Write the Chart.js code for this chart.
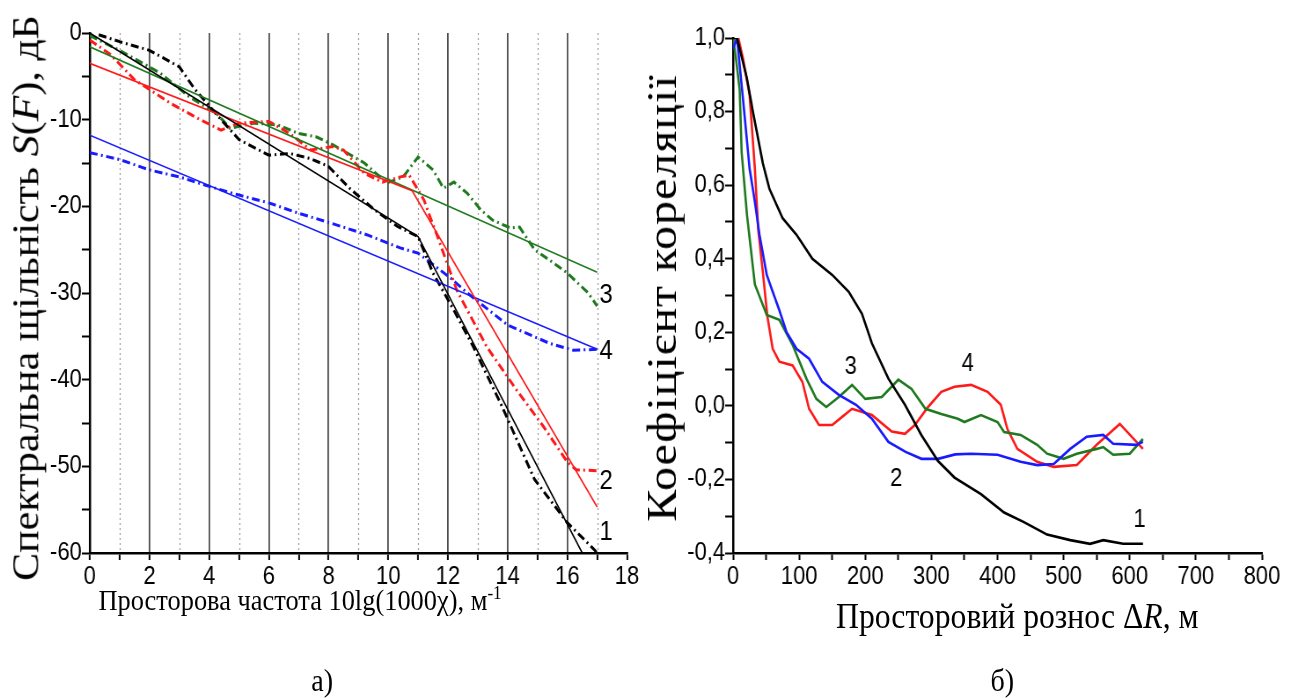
<!DOCTYPE html>
<html>
<head>
<meta charset="utf-8">
<script src="https://cdn.jsdelivr.net/npm/chart.js@4"></script>
<style>
  html, body { margin: 0; padding: 0; background: #fff; overflow: hidden; }
  body { width: 1295px; height: 698px; position: relative; }
  /* the reference is squeezed horizontally, so the whole page is drawn wider and scaled */
  #page { position: absolute; left: 0; top: 0; width: 1472px; height: 698px; transform: scaleX(0.88); transform-origin: 0 0; }
  canvas { position: absolute; top: 0; }
  .t { position: absolute; font-family: 'Liberation Serif', 'Times New Roman', serif; color: #000; white-space: nowrap; line-height: 1; }
  .rot { transform: translate(-50%, -50%) rotate(-90deg); }
  .hor { transform: translate(-50%, -50%); }
  sup { font-size: 0.65em; vertical-align: 0.55em; line-height: 0; }
</style>
</head>
<body>
<div id="page">
  <canvas id="chartA" width="740" height="600" style="left:0"></canvas>
  <canvas id="chartB" width="732" height="600" style="left:740px"></canvas>

  <div class="t rot" style="left:29px; top:298px; font-size:42px">Спектральна щільність <i>S</i>(<i>F</i>), дБ</div>
  <div class="t hor" style="left:341px; top:600px; font-size:30px">Просторова частота 10lg(1000χ), м<sup>-1</sup></div>
  <div class="t rot" style="left:752px; top:298px; font-size:48px; letter-spacing:1px">Коефіцієнт кореляції</div>
  <div class="t hor" style="left:1156px; top:616px; font-size:36px">Просторовий рознос Δ<i>R</i>, м</div>
  <div class="t hor" style="left:366px; top:680px; font-size:32px">а)</div>
  <div class="t hor" style="left:1139px; top:680px; font-size:32px">б)</div>
</div>
<script>
// ---- chart a): spectral density, dB vs 10lg(1000χ) ----
// straight fits (solid)
const fit1X = [0, 11, 16.5];
const fit1Y = [0, -23.5, -60];
const fit2X = [0, 10.8, 17];
const fit2Y = [-3.5, -18.2, -54.7];
const fit3X = [0, 17];
const fit3Y = [-1.6, -27.6];
const fit4X = [0, 17];
const fit4Y = [-11.8, -36.5];

// measured spectra (dash-dot)
const spec1X = [0.3, 1, 2, 3, 3.5, 4.4, 5, 6, 6.7, 7.4, 8, 8.7, 9.5, 10.3, 11, 11.5, 12.2, 12.85, 13.8, 14.9, 16, 16.9, 17];
const spec1Y = [-0.2, -1, -2, -3.9, -6.4, -10, -12.3, -14.1, -13.9, -14.5, -15.4, -17.9, -20.3, -22.3, -23.5, -27.7, -32, -36.2, -43, -51.5, -56.5, -59.6, -60];
const spec2X = [0, 0.7, 1.5, 2.7, 3.7, 4.4, 5, 6, 6.7, 7.4, 8.15, 8.5, 9.2, 9.8, 10.4, 10.7, 11, 11.2, 11.4, 11.6, 12.3, 13.3, 14.3, 15.2, 16, 16.3, 17];
const spec2Y = [-0.8, -2.5, -5.4, -8.1, -10, -11.2, -10.4, -10.2, -11.6, -13.5, -13.1, -13.5, -16.2, -17.2, -16.6, -16.4, -18.1, -19.3, -21.2, -23, -29.7, -36.2, -41.2, -45.4, -49.5, -50.4, -50.5];
const spec3X = [0, 1, 2.35, 3.35, 4.25, 4.7, 5.5, 6.3, 7, 7.6, 8.15, 9.2, 9.95, 10.5, 11, 11.5, 11.85, 12.2, 12.65, 13.1, 13.5, 14.1, 14.4, 14.9, 15.4, 16, 16.7, 17];
const spec3Y = [-0.3, -2, -4.6, -7.4, -9.3, -11, -10.4, -10.6, -11.6, -12, -12.9, -15, -17.3, -16.6, -14.3, -15.8, -17.9, -17.2, -18.5, -20.4, -21.6, -22.5, -22.4, -25, -26.2, -27.7, -30, -31.5];
const spec4X = [0, 1, 2, 3, 4, 5, 6, 7, 8.05, 9.3, 10.4, 11, 12.1, 12.65, 14, 15.4, 16.2, 17];
const spec4Y = [-13.8, -14.6, -15.8, -16.6, -17.7, -18.7, -19.6, -20.8, -21.9, -23.3, -24.8, -25.4, -28.3, -30, -33.7, -35.8, -36.6, -36.5];

// ---- chart б): correlation coefficient vs spacing, m ----
const corr1X = [0, 6, 21, 30, 45, 55, 75, 96, 120, 150, 175, 195, 210, 235, 260, 285, 310, 335, 375, 410, 440, 475, 510, 540, 560, 590, 620];
const corr1Y = [1.0, 1.0, 0.89, 0.8, 0.66, 0.59, 0.51, 0.465, 0.40, 0.356, 0.31, 0.25, 0.17, 0.074, 0.003, -0.08, -0.15, -0.195, -0.24, -0.29, -0.316, -0.35, -0.365, -0.375, -0.365, -0.375, -0.375];
const corr2X = [0, 6, 15, 25, 33, 40, 51, 60, 70, 81, 96, 115, 135, 160, 186, 210, 235, 261, 285, 310, 336, 360, 400, 435, 460, 485, 510, 535, 560, 575, 610, 620];
const corr2Y = [0.97, 1.0, 0.835, 0.645, 0.555, 0.465, 0.356, 0.31, 0.26, 0.2, 0.155, 0.128, 0.065, 0.03, 0.003, -0.035, -0.098, -0.125, -0.144, -0.144, -0.132, -0.13, -0.133, -0.152, -0.161, -0.158, -0.117, -0.084, -0.079, -0.103, -0.106, -0.098];
const corr3X = [0, 4, 10, 13, 21, 33, 51, 70, 90, 111, 126, 141, 160, 180, 200, 225, 250, 270, 291, 315, 340, 350, 375, 400, 410, 435, 460, 475, 500, 520, 550, 560, 575, 600, 620];
const corr3Y = [1.0, 0.95, 0.86, 0.69, 0.52, 0.33, 0.247, 0.234, 0.166, 0.074, 0.019, -0.003, 0.024, 0.057, 0.019, 0.024, 0.071, 0.046, -0.008, -0.022, -0.035, -0.044, -0.025, -0.044, -0.071, -0.079, -0.106, -0.13, -0.144, -0.13, -0.117, -0.112, -0.133, -0.13, -0.09];
const corr4X = [0, 8, 15, 25, 33, 38, 45, 52, 60, 70, 90, 105, 115, 130, 150, 165, 180, 210, 240, 260, 275, 295, 315, 335, 360, 385, 405, 415, 430, 460, 485, 520, 550, 585, 620];
const corr4Y = [1.0, 1.0, 0.945, 0.845, 0.645, 0.48, 0.365, 0.242, 0.155, 0.12, 0.11, 0.065, -0.008, -0.052, -0.052, -0.03, -0.008, -0.025, -0.07, -0.076, -0.052, -0.003, 0.038, 0.052, 0.057, 0.038, 0.003, -0.063, -0.117, -0.152, -0.166, -0.161, -0.106, -0.049, -0.117];

const labelsA = ['1', '2', '3', '4'];
const labelsB = ['1', '2', '3', '4'];

const tickFont = { family: "'Liberation Sans', Arial, sans-serif", size: 25 };
const BLACK = '#000000', RED = '#ff1a1a', GREEN = '#1f7a1f', BLUE = '#1a1aff';

function pts(xs, ys) {
    return xs.map((x, i) => ({ x: x, y: ys[i] }));
}

function line(xs, ys, color, width, dash) {
    return {
        data: pts(xs, ys),
        borderColor: color,
        borderWidth: width,
        borderDash: dash || [],
        pointRadius: 0,
        showLine: true,
        tension: 0,
        fill: false
    };
}

// small text markers next to curves, placed in data units
const seriesLabels = {
    id: 'seriesLabels',
    afterDatasetsDraw(chart, args, opts) {
        const ctx = chart.ctx;
        const x = chart.scales.x, y = chart.scales.y;
        ctx.save();
        ctx.font = opts.font;
        ctx.fillStyle = '#000';
        ctx.textAlign = 'center';
        ctx.textBaseline = 'middle';
        opts.items.forEach(it => {
            ctx.fillText(it.text, x.getPixelForValue(it.x), y.getPixelForValue(it.y));
        });
        ctx.restore();
    }
};

// dotted lines at odd x values of chart a)
const dottedGrid = {
    id: 'dottedGrid',
    beforeDatasetsDraw(chart) {
        if (chart.canvas.id !== 'chartA') return;
        const ctx = chart.ctx, area = chart.chartArea, x = chart.scales.x;
        ctx.save();
        ctx.setLineDash([2, 3]);
        ctx.strokeStyle = '#9a9a9a';
        ctx.lineWidth = 1.2;
        for (let v = 1; v < 18; v += 2) {
            const px = Math.round(x.getPixelForValue(v)) + 0.5;
            ctx.beginPath();
            ctx.moveTo(px, area.top);
            ctx.lineTo(px, area.bottom);
            ctx.stroke();
        }
        ctx.restore();
    }
};

Chart.register(seriesLabels, dottedGrid);

let chartA = new Chart(document.querySelector('#chartA').getContext('2d'), {
    type: 'scatter',
    data: {
        datasets: [
            line(fit1X, fit1Y, BLACK, 1.6),
            line(fit2X, fit2Y, RED, 1.6),
            line(fit3X, fit3Y, GREEN, 1.6),
            line(fit4X, fit4Y, BLUE, 1.6),
            line(spec1X, spec1Y, BLACK, 3, [9, 4, 2, 4]),
            line(spec2X, spec2Y, RED, 3, [9, 4, 2, 4]),
            line(spec3X, spec3Y, GREEN, 3, [9, 4, 2, 4]),
            line(spec4X, spec4Y, BLUE, 3, [9, 4, 2, 4])
        ]
    },
    options: {
        responsive: false,
        animation: false,
        layout: { padding: { top: 33, right: 27.5, left: 0, bottom: 0 } },
        scales: {
            x: {
                type: 'linear',
                min: 0,
                max: 18,
                afterFit: s => { s.height = 47; },
                border: { color: '#000', width: 2.5 },
                grid: {
                    color: c => (c.tick && c.tick.value % 2 === 0 && c.tick.value > 0 && c.tick.value < 18) ? '#4d4d4d' : 'rgba(0,0,0,0)',
                    lineWidth: 1.8,
                    tickColor: '#000',
                    tickLength: 7,
                    tickWidth: 2
                },
                ticks: {
                    stepSize: 1,
                    autoSkip: false,
                    maxRotation: 0,
                    padding: 2,
                    color: '#000',
                    font: tickFont,
                    callback: v => (v % 2 === 0 ? String(v) : '')
                }
            },
            y: {
                type: 'linear',
                min: -60,
                max: 0,
                afterFit: s => { s.width = 102; },
                border: { color: '#000', width: 2.5 },
                grid: { drawOnChartArea: false, tickColor: '#000', tickLength: 9, tickWidth: 2 },
                ticks: {
                    stepSize: 5,
                    autoSkip: false,
                    padding: 0,
                    color: '#000',
                    font: tickFont,
                    callback: v => (v % 10 === 0 ? String(v) : '')
                }
            }
        },
        plugins: {
            legend: { display: false },
            tooltip: { enabled: false },
            seriesLabels: {
                font: "27px 'Liberation Sans', Arial, sans-serif",
                items: [
                    { text: labelsA[0], x: 17.3, y: -57.6 },
                    { text: labelsA[1], x: 17.3, y: -51.8 },
                    { text: labelsA[2], x: 17.3, y: -30.3 },
                    { text: labelsA[3], x: 17.3, y: -36.8 }
                ]
            }
        }
    }
});

let chartB = new Chart(document.querySelector('#chartB').getContext('2d'), {
    type: 'scatter',
    data: {
        datasets: [
            line(corr1X, corr1Y, BLACK, 2.6),
            line(corr2X, corr2Y, BLUE, 2.6),
            line(corr3X, corr3Y, GREEN, 2.6),
            line(corr4X, corr4Y, RED, 2.6)
        ]
    },
    options: {
        responsive: false,
        animation: false,
        layout: { padding: { top: 38, right: 38, left: 0, bottom: 0 } },
        scales: {
            x: {
                type: 'linear',
                min: 0,
                max: 800,
                afterFit: s => { s.height = 47; },
                border: { color: '#000', width: 2.5 },
                grid: { drawOnChartArea: false, tickColor: '#000', tickLength: 7, tickWidth: 2 },
                ticks: {
                    stepSize: 50,
                    autoSkip: false,
                    maxRotation: 0,
                    padding: 2,
                    color: '#000',
                    font: tickFont,
                    callback: v => (Math.round(v) % 100 === 0 ? String(Math.round(v)) : '')
                }
            },
            y: {
                type: 'linear',
                min: -0.4,
                max: 1.0,
                afterFit: s => { s.width = 93; },
                border: { color: '#000', width: 2.5 },
                grid: { drawOnChartArea: false, tickColor: '#000', tickLength: 9, tickWidth: 2 },
                ticks: {
                    stepSize: 0.1,
                    autoSkip: false,
                    padding: 0,
                    color: '#000',
                    font: tickFont,
                    callback: v => {
                        const t = Math.round(v * 10);
                        return t % 2 === 0 ? (t / 10).toFixed(1).replace('.', ',') : '';
                    }
                }
            }
        },
        plugins: {
            legend: { display: false },
            tooltip: { enabled: false },
            seriesLabels: {
                font: "25px 'Liberation Sans', Arial, sans-serif",
                items: [
                    { text: labelsB[0], x: 615, y: -0.31 },
                    { text: labelsB[1], x: 247, y: -0.2 },
                    { text: labelsB[2], x: 178, y: 0.106 },
                    { text: labelsB[3], x: 355, y: 0.114 }
                ]
            }
        }
    }
});
</script>
</body>
</html>
